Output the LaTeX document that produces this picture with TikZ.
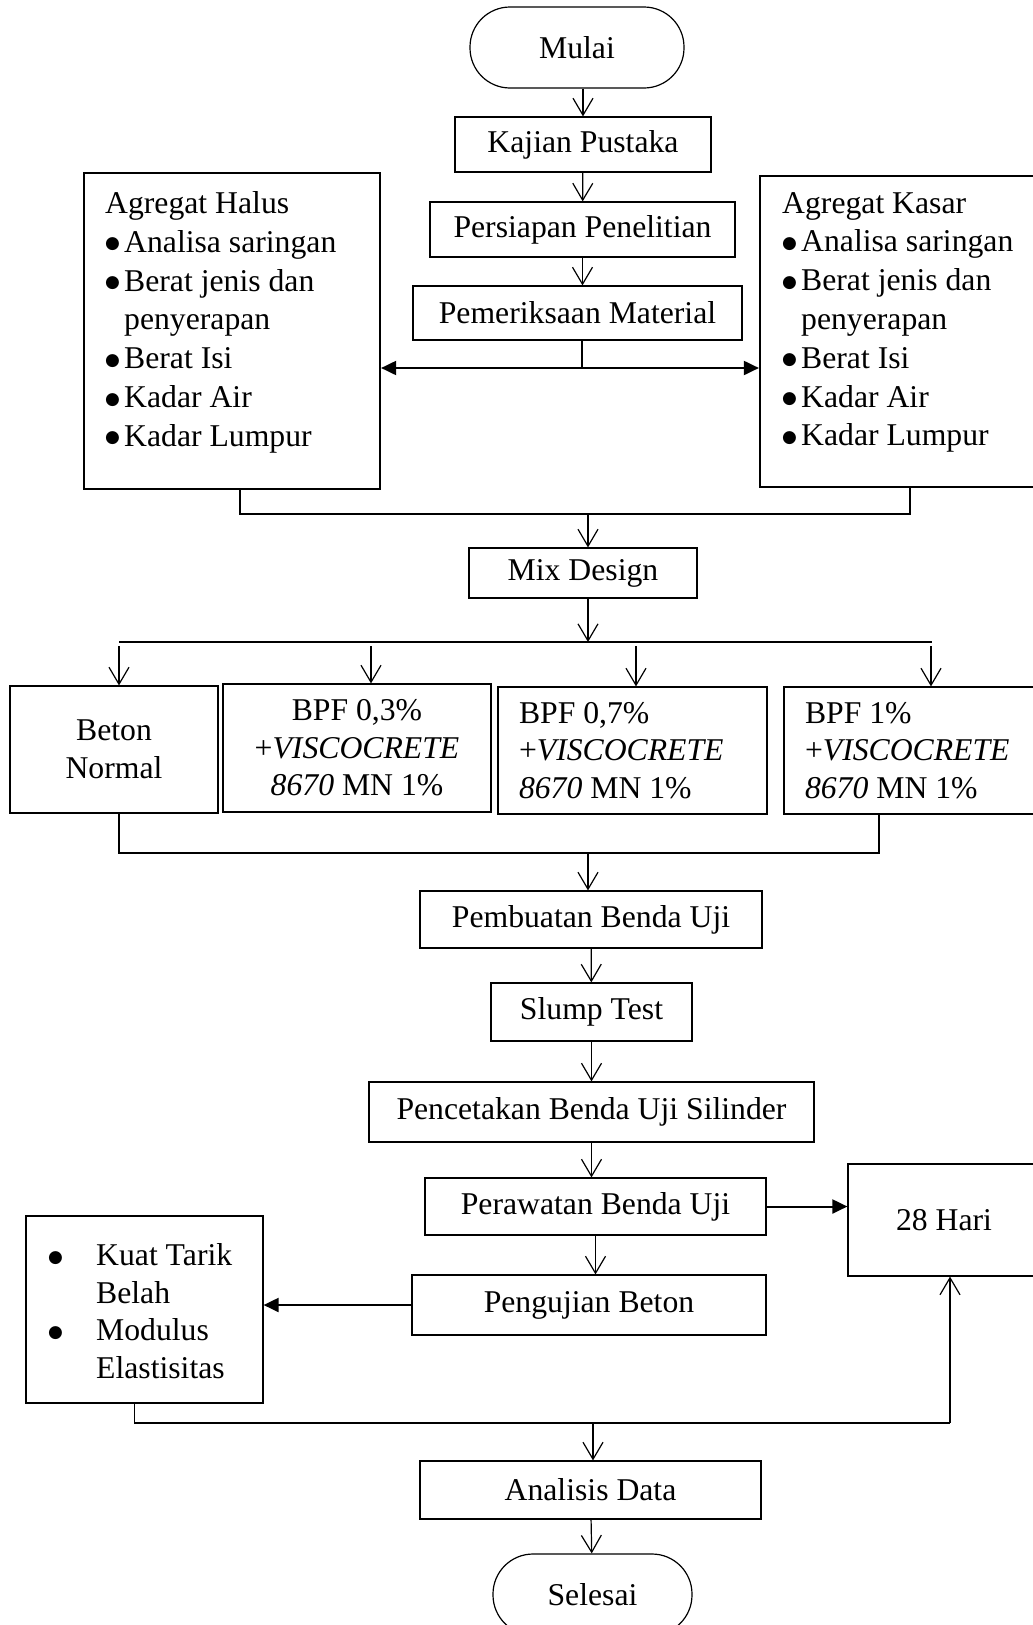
\documentclass[tikz,border=0pt]{standalone}
\usepackage{fontspec}
\setmainfont{Liberation Serif}
\newfontfamily\dotfont{DejaVu Sans}
\usetikzlibrary{positioning,arrows.meta}
\tikzset{
  flow box/.style 2 args={
    draw,
    line width=1.2pt,
    minimum width={#1pt},
    minimum height={#2pt},
    inner sep=0pt,
    align=center,
  },
  terminal/.style 2 args={
    flow box={#1}{#2},
    rounded corners=40pt,
  },
  heavy box/.style={
    line width=2.2pt,
  },
  list text/.style={
    anchor=north west,
    inner sep=0pt,
    align=flush left,
    font=\fontsize{31.7}{38.8}\selectfont,
  },
  flow/.style={
    -{Straight Barb[length=17pt,width=20pt]},
    line width=1.2pt,
  },
  bold flow/.style={
    -{Triangle[length=15pt,width=14pt]},
    line width=2pt,
  },
  bold both/.style={
    {Triangle[length=15pt,width=14pt]}-{Triangle[length=15pt,width=14pt]},
    line width=2pt,
  },
  join line/.style={
    line width=1.8pt,
  },
}
\newcommand{\bigdot}{\raisebox{3.5pt}{\dotfont\fontsize{17}{17}\selectfont ●}}
\newcommand{\itm}{\makebox[19pt][l]{\bigdot}}
\newcommand{\wideitm}{\makebox[48pt][l]{\bigdot}}

\begin{document}
\begin{tikzpicture}[x=1pt, y=-1pt, every node/.style={font=\fontsize{31.7}{37.5}\selectfont}]
  \useasboundingbox (0,0) rectangle (1033,1625);

  \node [terminal={214}{81}] (mulai) at (577,47.5) {Mulai};
  \node [flow box={256}{55}] (kajian) at (583,144.5) {Kajian Pustaka};
  \node [flow box={305}{55}] (persiapan) at (582.5,229.5) {Persiapan Penelitian};
  \node [flow box={329}{54}] (pemeriksaan) at (577.5,313) {Pemeriksaan Material};

  \node [flow box={296}{316}, heavy box] (halus) at (232,331) {};
  \node [list text] (halus text) at (105,191.3) {Agregat Halus\\
    \itm Analisa saringan\\
    \itm Berat jenis dan\\
    \hspace*{19pt}penyerapan\\
    \itm Berat Isi\\
    \itm Kadar Air\\
    \itm Kadar Lumpur};
  \node [flow box={282}{311}, heavy box] (kasar) at (901,331.5) {};
  \node [list text] (kasar text) at (782,192) {Agregat Kasar\\
    \itm Analisa saringan\\
    \itm Berat jenis dan\\
    \hspace*{19pt}penyerapan\\
    \itm Berat Isi\\
    \itm Kadar Air\\
    \itm Kadar Lumpur};

  \node [flow box={228}{50}] (mix) at (583,573) {Mix Design};

  \node [flow box={208}{127}] (beton) at (114,749.5) {Beton\\Normal};
  \node [flow box={268}{128}] (bpf03) at (357,748) {BPF 0,3\%\\+\textit{VISCOCRETE}\\\textit{8670} MN 1\%};
  \node [flow box={269}{127}, text width=227pt, align=flush left] (bpf07) at (632.5,750.5) {BPF 0,7\%\\+\textit{VISCOCRETE}\\\textit{8670} MN 1\%};
  \node [flow box={256}{127}, text width=214pt, align=flush left] (bpf1) at (912,750.5) {BPF 1\%\\+\textit{VISCOCRETE}\\\textit{8670} MN 1\%};

  \node [flow box={342}{57}] (pembuatan) at (591,919.5) {Pembuatan Benda Uji};
  \node [flow box={201}{58}] (slump) at (591.5,1012) {Slump Test};
  \node [flow box={445}{60}] (pencetakan) at (591.5,1112) {Pencetakan Benda Uji Silinder};
  \node [flow box={341}{57}] (perawatan) at (595.5,1206.5) {Perawatan Benda Uji};
  \node [flow box={192}{112}] (hari) at (944,1220) {28 Hari};
  \node [flow box={354}{60}] (pengujian) at (589,1305) {Pengujian Beton};
  \node [flow box={237}{187}] (kuat) at (144.5,1309.5) {};
  \node [list text, font=\fontsize{31.7}{37.7}\selectfont] (kuat text) at (48,1243.3) {\wideitm Kuat Tarik\\
    \hspace*{48pt}Belah\\
    \wideitm Modulus\\
    \hspace*{48pt}Elastisitas};
  \node [flow box={341}{58}] (analisis) at (590.5,1490) {Analisis Data};
  \node [terminal={199}{81}] (selesai) at (592.5,1594.5) {Selesai};

  \coordinate (split) at (582,368);
  \coordinate (merge a) at (588,514);
  \coordinate (fan) at (588,642);
  \coordinate (merge b) at (588,853);
  \coordinate (merge c) at (593,1423);

  \draw [flow] (mulai.south -| kajian.north) -- (kajian.north);
  \draw [flow] (kajian) -- (persiapan);
  \draw [flow] (persiapan.south) -- (persiapan.south |- pemeriksaan.north);
  \draw [line width=1.2pt] (pemeriksaan.south -| split) -- (split);
  \draw [bold both] (halus.east |- split) -- (kasar.west |- split);

  \draw [join line] ([xshift=8pt]halus.south) -- ([xshift=8pt]halus.south |- merge a)
    -- ([xshift=9pt]kasar.south |- merge a) -- ([xshift=9pt]kasar.south);
  \draw [flow] (merge a) -- (mix.north -| merge a);
  \draw [flow] (mix.south -| fan) -- (fan);
  \draw [join line] (119,642) -- (932,642);
  \foreach \x/\n in {119/beton,371/bpf03,636/bpf07,931/bpf1}
    \draw [flow] (\x,646) -- (\x,0 |- \n.north);

  \draw [join line] ([xshift=5pt]beton.south) -- ([xshift=5pt]beton.south |- merge b)
    -- ([xshift=-33pt]bpf1.south |- merge b) -- ([xshift=-33pt]bpf1.south);
  \draw [flow] (merge b) -- (pembuatan.north -| merge b);
  \draw [flow] (pembuatan) -- (slump);
  \draw [flow] (slump) -- (pencetakan);
  \draw [flow] (pencetakan.south) -- (pencetakan.south |- perawatan.north);
  \draw [bold flow] (perawatan.east) -- (perawatan.east -| hari.west);
  \draw [flow] (perawatan.south) -- (perawatan.south |- pengujian.north);
  \draw [bold flow] (pengujian.west) -- (pengujian.west -| kuat.east);

  \draw [join line] ([xshift=-10pt]kuat.south) -- ([xshift=-10pt]kuat.south |- merge c)
    -- ([xshift=6pt]hari.south |- merge c);
  \draw [flow] ([xshift=6pt]hari.south |- merge c) -- ([xshift=6pt]hari.south);
  \draw [flow] (merge c) -- (analisis.north -| merge c);
  \draw [flow] (analisis) -- (selesai);
\end{tikzpicture}
\end{document}
